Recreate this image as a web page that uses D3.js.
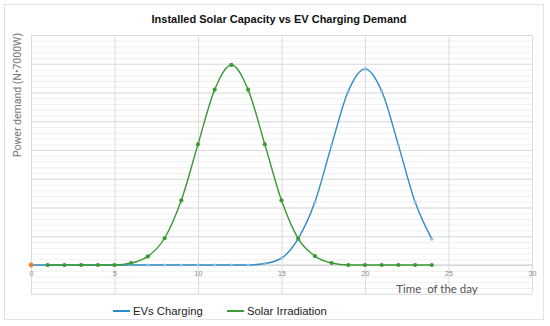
<!DOCTYPE html>
<meta charset="utf-8">
<style>
body { margin:0; background:#fff; }
svg text { font-family:"Liberation Sans", Arial, sans-serif; }
.grid-minor line { stroke:#f0f0f0; }
.grid-major line { stroke:#dcdcdc; }
.grid .domain, .xaxis .domain { display:none; }
.xaxis text { fill:#888; font-size:7px; }
</style>
<body>
<script src="https://cdn.jsdelivr.net/npm/d3@7"></script>
<script>
// hours of the day
var hours = d3.range(0, 25);
// EV charging demand (blue), per hour 0..24
var evCharging = [0,0,0,0,0,0,0,0,0,0,0,0,0,0,0.05,0.24,0.92,2.19,4.17,6.05,6.82,6.05,4.17,2.19,0.9];
// solar irradiation (green), per hour 1..24
var solarHours = d3.range(1, 25);
var solar = [0,0,0,0,0,0.07,0.3,0.93,2.25,4.2,6.1,6.96,6.1,4.2,2.25,0.92,0.31,0.07,0,0,0,0,0,0];
var xTicks = [0,5,10,15,20,25,30];
var legendItems = ["EVs Charging", "Solar Irradiation"];

var width = 550, height = 326;
var svg = d3.select("body").append("svg")
    .attr("width", width)
    .attr("height", height);

// outer frame
svg.append("rect")
    .attr("x", 4.5).attr("y", 4.5)
    .attr("width", 539).attr("height", 315)
    .attr("fill", "none").attr("stroke", "#e2e2e2");

var x = d3.scaleLinear().domain([0, 30]).range([31, 532]);
var y = d3.scaleLinear().domain([-1, 8]).range([293.75, 35]);

// minor grid
svg.append("g").attr("class", "grid grid-minor")
    .attr("transform", "translate(31,0)")
    .call(d3.axisLeft(y).tickValues(d3.range(-1, 8.01, 0.2)).tickSize(-501).tickFormat(""));
// major grid
svg.append("g").attr("class", "grid grid-major")
    .attr("transform", "translate(31,0)")
    .call(d3.axisLeft(y).tickValues(d3.range(-1, 9)).tickSize(-501).tickFormat(""));
svg.append("g").attr("class", "grid grid-major")
    .attr("transform", "translate(0,35)")
    .call(d3.axisBottom(x).tickValues(xTicks).tickSize(258.75).tickFormat(""));

// x labels along zero line
var xa = svg.append("g").attr("class", "xaxis")
    .attr("transform", "translate(0," + y(0) + ")")
    .call(d3.axisBottom(x).tickValues(xTicks).tickSize(0).tickPadding(6));
svg.append("line")
    .attr("x1", x(0)).attr("x2", x(30))
    .attr("y1", y(0)).attr("y2", y(0))
    .attr("stroke", "#cfcfcf");

var blue = "#2d8cc6", green = "#3b9a34";
var line = d3.line().curve(d3.curveMonotoneX)
    .x(function(d) { return x(d[0]); })
    .y(function(d) { return y(d[1]); });

var evData = hours.map(function(h, i) { return [h, evCharging[i]]; });
var solarData = solarHours.map(function(h, i) { return [h, solar[i]]; });

svg.append("path").datum(evData)
    .attr("d", line).attr("fill", "none")
    .attr("stroke", blue).attr("stroke-width", 1.4);
svg.append("g").selectAll("circle").data(evData)
  .enter().append("circle")
    .attr("cx", function(d) { return x(d[0]); })
    .attr("cy", function(d) { return y(d[1]); })
    .attr("r", 1.6).attr("fill", "#8cc0e4");

svg.append("path").datum(solarData)
    .attr("d", line).attr("fill", "none")
    .attr("stroke", green).attr("stroke-width", 1.4);
svg.append("g").selectAll("circle").data(solarData)
  .enter().append("circle")
    .attr("cx", function(d) { return x(d[0]); })
    .attr("cy", function(d) { return y(d[1]); })
    .attr("r", 2.1).attr("fill", green);

svg.append("circle")
    .attr("cx", x(0)).attr("cy", y(0))
    .attr("r", 2.4).attr("fill", "#f07f2a");

// title
svg.append("text")
    .attr("x", 279).attr("y", 23)
    .attr("text-anchor", "middle")
    .style("font-weight", "bold").style("font-size", "11px")
    .attr("fill", "#111")
    .text("Installed Solar Capacity vs EV Charging Demand");

// y title
svg.append("text")
    .attr("transform", "translate(21,95) rotate(-90)")
    .attr("text-anchor", "middle")
    .style("font-family", "Roboto, sans-serif")
    .style("font-size", "10.5px").attr("fill", "#777")
    .text("Power demand (N\u20227000W)");

// x title
svg.append("text")
    .attr("x", 437).attr("y", 293)
    .attr("text-anchor", "middle")
    .style("font-family", "Lato, 'Open Sans', sans-serif")
    .style("font-size", "11.5px").style("white-space", "pre")
    .attr("fill", "#555")
    .text("Time  of the day");

// legend
var lg = svg.append("g");
var lx = [113, 227];
legendItems.forEach(function(name, i) {
  lg.append("line")
      .attr("x1", lx[i]).attr("x2", lx[i] + 17)
      .attr("y1", 311).attr("y2", 311)
      .attr("stroke", i === 0 ? blue : green).attr("stroke-width", 2);
  lg.append("text")
      .attr("x", lx[i] + 20).attr("y", 315)
      .style("font-size", "11.3px").attr("fill", "#222")
      .text(name);
});
</script>
